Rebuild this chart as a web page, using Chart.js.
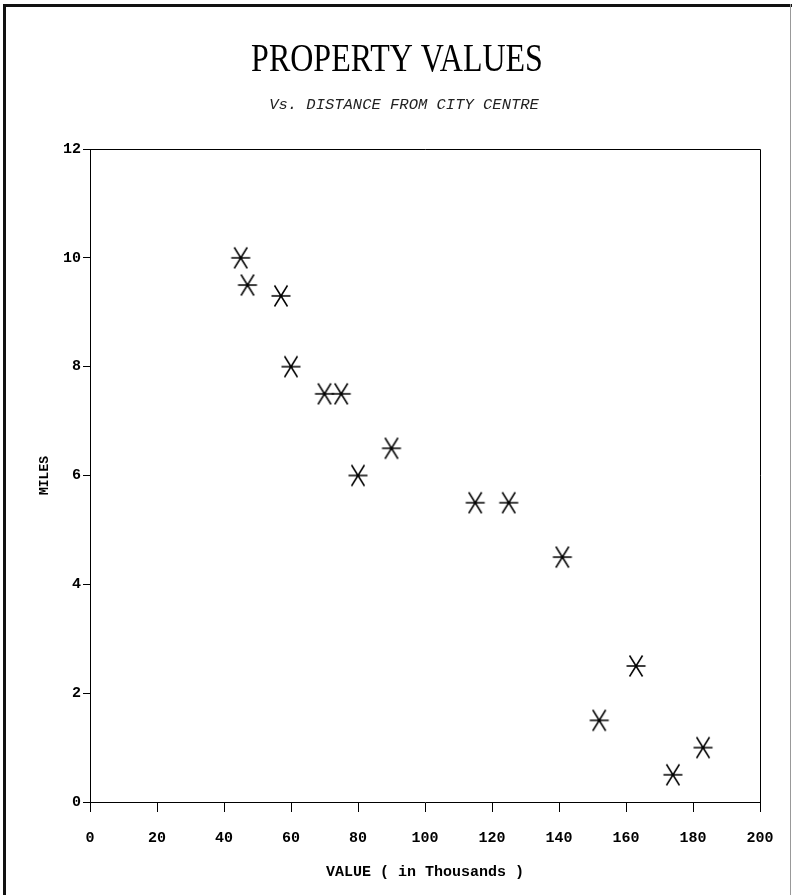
<!DOCTYPE html>
<html>
<head>
<meta charset="utf-8">
<script src="https://cdn.jsdelivr.net/npm/chart.js@4/dist/chart.umd.min.js"></script>
<style>
  html, body { margin:0; padding:0; background:#fff; }
  #wrap { width:792px; height:895px; position:relative; }
</style>
</head>
<body>
<div id="wrap"><canvas id="myChart" width="792" height="895"></canvas></div>
<script>
// data
var values = [45, 47, 57, 60, 70, 75, 80, 90, 115, 125, 141, 152, 163, 174, 183]; // thousands
var miles  = [10, 9.5, 9.3, 8, 7.5, 7.5, 6, 6.5, 5.5, 5.5, 4.5, 1.5, 2.5, 0.5, 1];
var xTicks = [0, 20, 40, 60, 80, 100, 120, 140, 160, 180, 200];
var yTicks = [0, 2, 4, 6, 8, 10, 12];

var titleText = 'PROPERTY VALUES';
var subText = 'Vs. DISTANCE FROM CITY CENTRE';

// asterisk marker: horizontal bar plus two steep diagonals
var star = document.createElement('canvas');
star.width = 22; star.height = 24;
(function(){
  var c = star.getContext('2d');
  c.strokeStyle = '#000';
  c.lineWidth = 1.5;
  c.beginPath();
  c.moveTo(1.5, 12); c.lineTo(20.5, 12);
  c.moveTo(4.5, 1.5); c.lineTo(17.5, 22.5);
  c.moveTo(17.5, 1.5); c.lineTo(4.5, 22.5);
  c.stroke();
})();

var mono = '"Courier New", "Liberation Mono", monospace';

// page frame, plot box and the two headings
var decor = {
  id: 'decor',
  beforeDraw: function(chart){
    var ctx = chart.ctx;
    ctx.save();
    ctx.fillStyle = '#fff';
    ctx.fillRect(0, 0, chart.width, chart.height);
    ctx.fillStyle = '#111';
    ctx.fillRect(3, 4, 789, 3);
    ctx.fillRect(3, 4, 3, 891);
    ctx.fillStyle = '#999';
    ctx.fillRect(790, 4, 1, 891);
    ctx.restore();
  },
  afterDraw: function(chart){
    var ctx = chart.ctx, a = chart.chartArea;
    ctx.save();
    ctx.strokeStyle = '#000';
    ctx.lineWidth = 1;
    ctx.beginPath();
    ctx.moveTo(a.left, a.top + 0.5); ctx.lineTo(a.right + 0.5, a.top + 0.5);
    ctx.lineTo(a.right + 0.5, a.bottom);
    ctx.stroke();
    ctx.fillStyle = '#000';
    ctx.textAlign = 'center';
    ctx.textBaseline = 'middle';
    ctx.save();
    ctx.translate(397, 60);
    ctx.scale(1, 1.25);
    ctx.font = '32px "Liberation Serif", "Times New Roman", serif';
    ctx.fillText(titleText, 0, 0);
    ctx.restore();
    ctx.fillStyle = '#222';
    ctx.font = 'italic 15.5px ' + mono;
    ctx.fillText(subText, 404, 105);
    ctx.restore();
  }
};

var myChart = document.getElementById('myChart').getContext('2d');
new Chart(myChart, {
  type: 'scatter',
  data: {
    datasets: [{
      data: values.map(function(v, i){ return {x: v, y: miles[i]}; }),
      pointStyle: star,
      pointRadius: 10,
      pointHoverRadius: 10
    }]
  },
  options: {
    responsive: false,
    animation: false,
    events: [],
    layout: { padding: { top: 149, right: 32, left: 0, bottom: 0 } },
    plugins: { legend: { display: false }, tooltip: { enabled: false } },
    scales: {
      x: {
        type: 'linear', min: 0, max: 200,
        afterBuildTicks: function(s){ s.ticks = xTicks.map(function(v){ return {value: v}; }); },
        afterFit: function(s){ s.height = 93; },
        grid: { drawOnChartArea: false, drawTicks: true, tickLength: 10, color: '#000', tickColor: '#000' },
        border: { color: '#000', width: 1 },
        ticks: { color: '#000', padding: 17, maxRotation: 0, font: { family: mono, size: 15, weight: 'bold' } },
        title: { display: true, text: 'VALUE ( in Thousands )', color: '#000', padding: { top: 0, bottom: 14 },
          font: { family: mono, size: 15, weight: 'bold' } }
      },
      y: {
        type: 'linear', min: 0, max: 12,
        afterBuildTicks: function(s){ s.ticks = yTicks.map(function(v){ return {value: v}; }); },
        afterFit: function(s){ s.width = 90; },
        grid: { drawOnChartArea: false, drawTicks: true, tickLength: 7, color: '#000', tickColor: '#000' },
        border: { color: '#000', width: 1 },
        ticks: { color: '#000', padding: 2, font: { family: mono, size: 15, weight: 'bold' } },
        title: { display: true, text: 'MILES', color: '#000', padding: { top: 37, bottom: 0 },
          font: { family: mono, size: 13, weight: 'bold' } }
      }
    }
  },
  plugins: [decor]
});
</script>
</body>
</html>
